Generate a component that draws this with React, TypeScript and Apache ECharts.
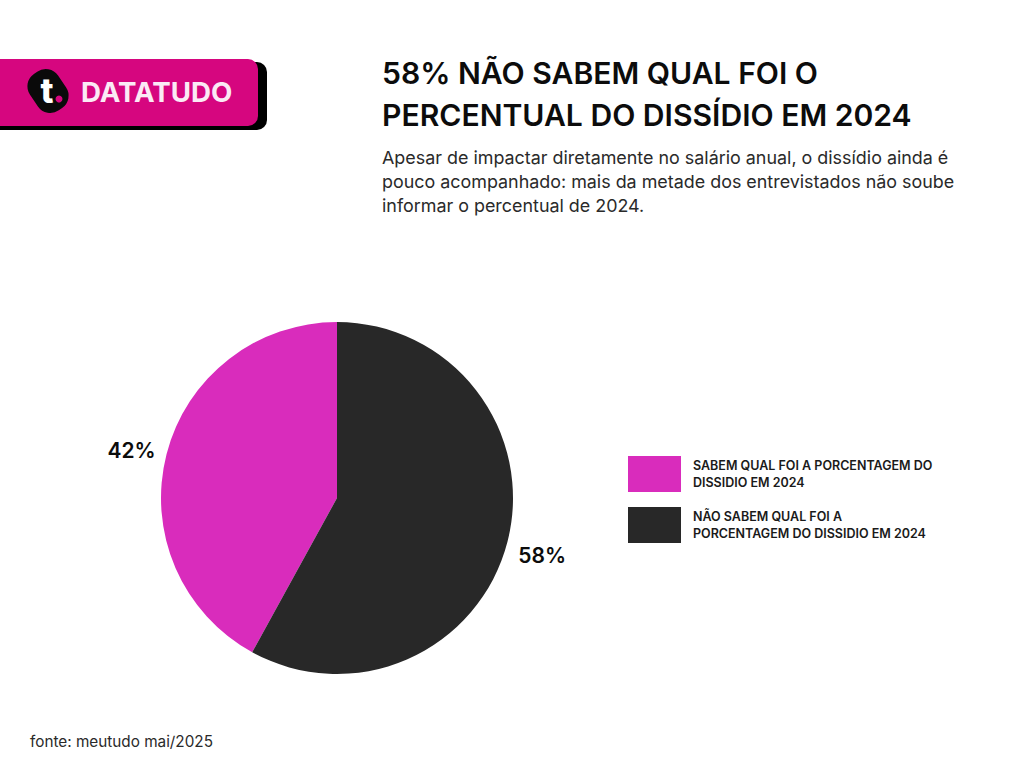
import { useRef, useEffect } from 'react'
import * as echarts from 'echarts'

const categories = ['Sabem', 'Não sabem']
const values = [42, 58]
const sliceLabels = ['42%', '58%']
const legendLines = [
  'SABEM QUAL FOI A PORCENTAGEM DO\nDISSIDIO EM 2024',
  'NÃO SABEM QUAL FOI A\nPORCENTAGEM DO DISSIDIO EM 2024',
]
const titleText = '58% NÃO SABEM QUAL FOI O\nPERCENTUAL DO DISSÍDIO EM 2024'
const subtitleText =
  'Apesar de impactar diretamente no salário anual, o dissídio ainda é\npouco acompanhado: mais da metade dos entrevistados não soube\ninformar o percentual de 2024.'
const sourceText = 'fonte: meutudo mai/2025'
const colors = ['#d92cbc', '#282828']
// nudge the outside labels to where the reference has them
const labelShift = [
  { dx: 6, dy: -2 },
  { dx: -6, dy: 12 },
]
const FONT = 'Inter, "Open Sans", sans-serif'

function App() {
  const chartRef = useRef<HTMLDivElement>(null)

  useEffect(() => {
    if (chartRef.current) {
      const myChart = echarts.init(chartRef.current, undefined, { renderer: 'svg' })
      const option = {
        animation: false,
        backgroundColor: '#ffffff',
        color: colors,
        title: {
          text: titleText,
          left: 382,
          top: 52,
          padding: 0,
          textStyle: { fontFamily: FONT, fontSize: 30.1, fontWeight: 600, color: '#0c0c0c', lineHeight: 42 },
        },
        legend: {
          orient: 'vertical',
          left: 628,
          top: 456,
          padding: 0,
          itemWidth: 53,
          itemHeight: 36,
          itemGap: 15,
          icon: 'rect',
          data: categories,
          selectedMode: false,
          formatter: (name: string) => legendLines[categories.indexOf(name)],
          textStyle: { fontFamily: FONT, fontSize: 12.5, fontWeight: 600, color: '#1a1a1a', lineHeight: 17, padding: [0, 0, 0, 7] },
        },
        series: [{
          type: 'pie',
          center: [337, 498],
          radius: [0, 176],
          startAngle: 90,
          clockwise: false,
          silent: true,
          data: categories.map((name, i) => ({ name, value: values[i], label: { formatter: sliceLabels[i] } })),
          label: { show: true, position: 'outside', fontFamily: FONT, fontSize: 21, fontWeight: 600, color: '#0c0c0c' },
          labelLine: { show: false, length: 6, length2: 6 },
          labelLayout: (params: any) => labelShift[params.dataIndex],
        }],
        graphic: [
          { type: 'rect', shape: { x: -12, y: 62, width: 279, height: 68, r: 10 }, style: { fill: '#000000' } },
          { type: 'rect', shape: { x: -12, y: 59, width: 270, height: 67, r: 10 }, style: { fill: '#d6067f' } },
          { type: 'rect', x: 48, y: 91, rotation: 0.6, shape: { x: -17, y: -22, width: 34, height: 44, r: 15 }, style: { fill: '#0a0a0a' } },
          { type: 'text', x: 47, y: 90, style: { text: 't', fontFamily: FONT, fontSize: 34, fontWeight: 800, fill: '#ffffff', align: 'center', verticalAlign: 'middle' } },
          { type: 'circle', shape: { cx: 59, cy: 99, r: 3.5 }, style: { fill: '#d6067f' } },
          { type: 'text', x: 81, y: 92, style: { text: 'DATATUDO', fontFamily: FONT, fontSize: 27.7, fontWeight: 700, fill: '#fbeaf5', verticalAlign: 'middle' } },
          { type: 'text', x: 382, y: 145, style: { text: subtitleText, fontFamily: FONT, fontSize: 17.9, lineHeight: 24, fill: '#2a2a2a' } },
          { type: 'text', x: 30, y: 734, style: { text: sourceText, fontFamily: FONT, fontSize: 15.3, fill: '#2a2a2a' } },
        ],
      }
      myChart.setOption(option)

      return () => {
        myChart.dispose()
      }
    }
  }, [])

  return (
    <div ref={chartRef} style={{ position: 'absolute', left: 0, top: 0, width: '1024px', height: '768px' }}></div>
  )
}

export default App
